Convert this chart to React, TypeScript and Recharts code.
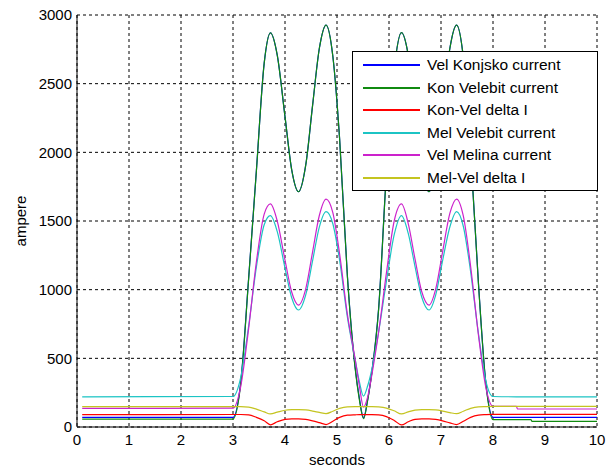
import { CartesianGrid, Legend, Line, LineChart, XAxis, YAxis } from "recharts";

// time axis (s) shared by all series
const seconds = [
  0.1, 3.0, 3.15, 3.3, 3.45, 3.6, 3.72, 3.85, 4.0, 4.13, 4.26, 4.4, 4.53, 4.66, 4.79, 4.92, 5.05, 5.2, 5.35, 5.43,
  5.51, 5.59, 5.67, 5.8, 5.95, 6.1, 6.24, 6.37, 6.5, 6.63, 6.77, 6.9, 7.03, 7.17, 7.3, 7.43, 7.57, 7.72, 7.86, 8.0,
  8.45, 8.47, 8.73, 8.75, 10,
];

const velKonjsko = [
  70, 70, 330, 1080, 1870, 2650, 2870, 2710, 2260, 1870, 1713, 1910, 2340, 2756, 2927, 2700, 2100, 1100, 430, 210,
  68, 200, 400, 860, 1850, 2600, 2871, 2708, 2311, 1902, 1713, 1884, 2301, 2756, 2927, 2690, 1995, 1048, 330, 70,
  70, 70, 70, 70, 70,
];

const konVelebit = [
  58, 58, 320, 1075, 1865, 2650, 2870, 2710, 2260, 1870, 1713, 1910, 2340, 2756, 2927, 2700, 2100, 1095, 425, 200,
  60, 195, 395, 855, 1845, 2600, 2871, 2708, 2311, 1902, 1713, 1884, 2301, 2756, 2927, 2690, 1995, 1045, 325, 53,
  53, 53, 53, 41, 41,
];

const konVelDelta = [
  90, 91, 91, 88, 70, 45, 16, 38, 56, 59, 59, 55, 45, 32, 18, 42, 70, 86, 89, 90,
  90, 90, 90, 88, 76, 48, 15, 38, 56, 59, 59, 55, 45, 30, 18, 42, 70, 86, 90, 92,
  92, 92, 92, 92, 92,
];

const melVelebit = [
  220, 222, 364, 733, 1166, 1473, 1539, 1424, 1157, 939, 852, 964, 1210, 1456, 1568, 1480, 1215, 800, 490, 330,
  225, 300, 420, 690, 1060, 1400, 1539, 1410, 1170, 945, 852, 964, 1210, 1456, 1568, 1460, 1130, 680, 340, 222,
  220, 220, 220, 220, 220,
];

const velMelina = [
  136, 137, 298, 715, 1203, 1550, 1624, 1501, 1215, 981, 888, 1008, 1274, 1540, 1660, 1561, 1261, 820, 490, 300,
  145, 220, 380, 690, 1120, 1500, 1624, 1481, 1224, 985, 888, 1008, 1274, 1555, 1660, 1535, 1169, 670, 292, 150,
  150, 131, 131, 131, 131,
];

const melVelDelta = [
  148, 148, 148, 145, 130, 110, 95, 108, 122, 126, 127, 124, 116, 106, 97, 115, 136, 147, 148, 148,
  148, 148, 148, 146, 138, 118, 95, 110, 123, 127, 127, 124, 116, 105, 97, 115, 136, 147, 149, 150,
  150, 150, 150, 150, 150,
];

const xTicks = [0, 1, 2, 3, 4, 5, 6, 7, 8, 9, 10];
const yTicks = [0, 500, 1000, 1500, 2000, 2500, 3000];

const SERIES = [
  { key: "velKonjsko", name: "Vel Konjsko current", color: "#0000ff", values: velKonjsko },
  { key: "konVelebit", name: "Kon Velebit current", color: "#108a10", values: konVelebit },
  { key: "konVelDelta", name: "Kon-Vel delta I", color: "#ff0000", values: konVelDelta },
  { key: "melVelebit", name: "Mel Velebit current", color: "#1cc4c4", values: melVelebit },
  { key: "velMelina", name: "Vel Melina current", color: "#cc22cc", values: velMelina },
  { key: "melVelDelta", name: "Mel-Vel delta I", color: "#c4c420", values: melVelDelta },
];

const data = seconds.map((t, i) => {
  const row: Record<string, number> = { t };
  SERIES.forEach((s) => {
    row[s.key] = s.values[i];
  });
  return row;
});

const FONT = '"Liberation Sans", Arial, sans-serif';

// legend in plot order, not alphabetical
function LegendBox({ payload }: { payload?: any[] }) {
  const items = [...(payload ?? [])].sort(
    (a, b) => SERIES.findIndex((s) => s.name === a.value) - SERIES.findIndex((s) => s.name === b.value)
  );
  return (
    <div
      style={{
        boxSizing: "border-box",
        width: 246,
        height: 140,
        border: "1px solid #000",
        background: "#fff",
        paddingTop: 2,
        fontFamily: FONT,
        fontSize: 15.5,
        color: "#000",
      }}
    >
      {items.map((item) => (
        <div key={item.value} style={{ display: "flex", alignItems: "center", height: 22.5 }}>
          <span style={{ display: "inline-block", width: 57, marginLeft: 10, marginRight: 7, borderTop: `2px solid ${item.color}` }} />
          <span>{item.value}</span>
        </div>
      ))}
    </div>
  );
}

export default function App() {
  const tickStyle = { fill: "#000", fontSize: 15, fontFamily: FONT };
  return (
    <div style={{ position: "absolute", left: 0, top: 0, width: 613, height: 468, background: "#fff" }}>
      <LineChart width={613} height={468} data={data} margin={{ top: 15, right: 16, bottom: 0, left: 17 }}>
        <CartesianGrid stroke="#000" strokeDasharray="3 3" />
        <XAxis
          dataKey="t"
          type="number"
          domain={[0, 10]}
          ticks={xTicks}
          height={41}
          tickSize={0}
          tickMargin={7}
          tick={tickStyle}
          axisLine={{ stroke: "#000" }}
          label={{ value: "seconds", position: "insideBottom", offset: 3, fill: "#000", fontSize: 15, fontFamily: FONT }}
        />
        <XAxis xAxisId="top" orientation="top" type="number" domain={[0, 10]} height={0} tick={false} tickLine={false} axisLine={{ stroke: "#000" }} />
        <YAxis
          type="number"
          domain={[0, 3000]}
          ticks={yTicks}
          width={60}
          tickSize={0}
          tickMargin={5}
          tick={tickStyle}
          axisLine={{ stroke: "#000" }}
          label={{ value: "ampere", angle: -90, position: "insideLeft", offset: 4, fill: "#000", fontSize: 15, fontFamily: FONT, style: { textAnchor: "middle" } }}
        />
        <YAxis yAxisId="right" orientation="right" type="number" domain={[0, 3000]} width={0} tick={false} tickLine={false} axisLine={{ stroke: "#000" }} />
        {SERIES.map((s) => (
          <Line
            key={s.key}
            dataKey={s.key}
            name={s.name}
            stroke={s.color}
            strokeWidth={1.2}
            type="monotone"
            dot={false}
            activeDot={false}
            isAnimationActive={false}
          />
        ))}
        <Legend
          layout="horizontal"
          verticalAlign="middle"
          align="center"
          wrapperStyle={{ left: 352, top: 51, width: 246, height: 140 }}
          content={(props: any) => <LegendBox payload={props.payload} />}
        />
      </LineChart>
    </div>
  );
}
